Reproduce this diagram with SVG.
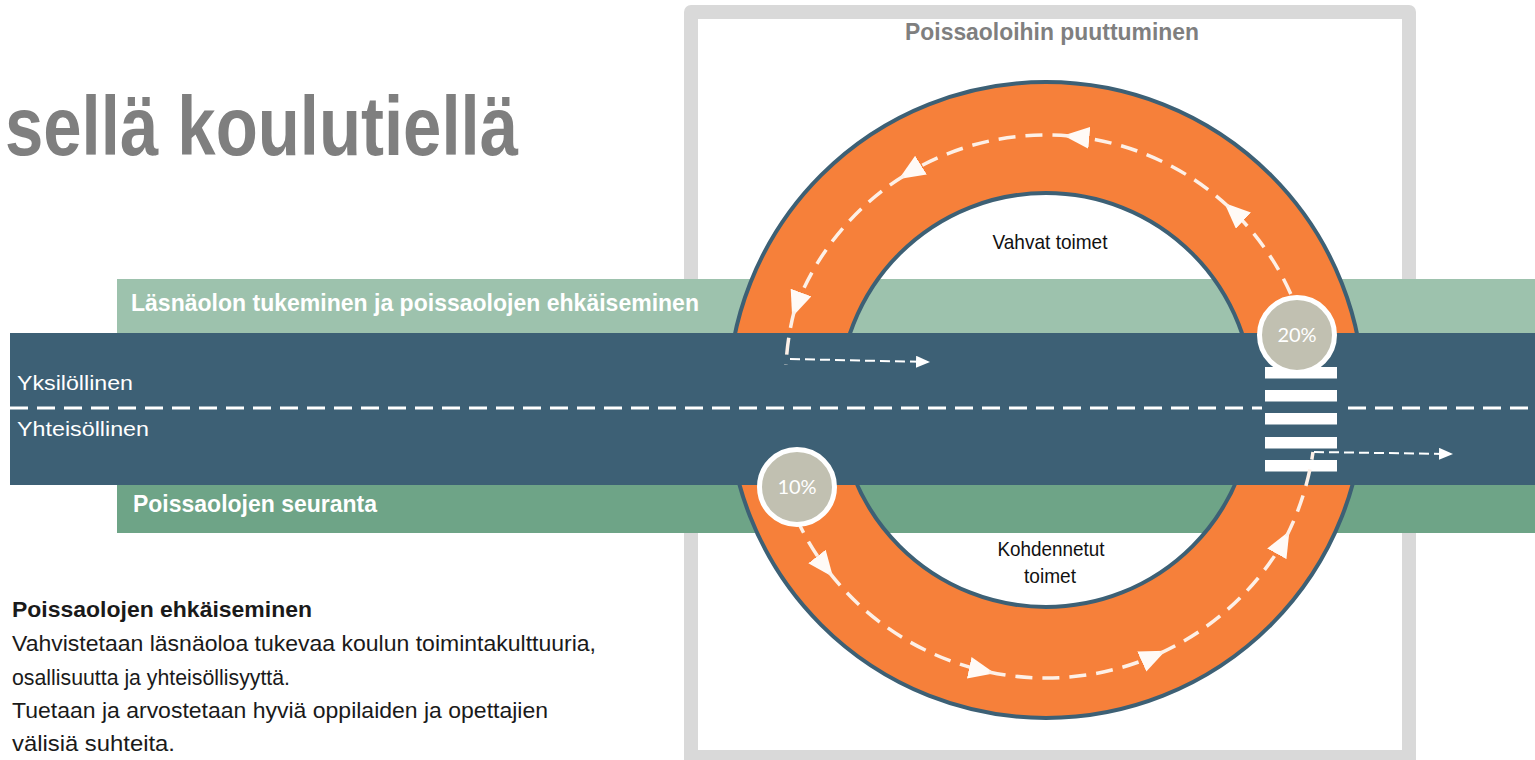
<svg xmlns="http://www.w3.org/2000/svg" width="1535" height="760" viewBox="0 0 1535 760">
<style>
.narrow{font-family:"Liberation Sans Narrow","Liberation Sans",Arial,sans-serif}
.b{font-weight:bold}
.w{fill:#ffffff}
.ring-dash{fill:none;stroke:#fdf0e7;stroke-width:3.5;stroke-dasharray:17 10}
.road-dash{fill:none;stroke:#ffffff;stroke-width:2;stroke-dasharray:10 5}
.pct{font-family:Lato,"Open Sans",sans-serif;font-size:20px;fill:#ffffff;text-anchor:middle}
.badge{fill:#c1c0b1;stroke:#ffffff;stroke-width:5}
.bar{fill:#ffffff}
</style>
<defs>
<marker id="ah" markerUnits="userSpaceOnUse" viewBox="0 0 26 22" markerWidth="26" markerHeight="22" refX="20" refY="11" orient="auto">
<path d="M0,0 L26,11 L0,22 Z" fill="#fffaf6"/>
</marker>
<marker id="sa" markerUnits="userSpaceOnUse" viewBox="0 0 14 12" markerWidth="14" markerHeight="12" refX="12" refY="6" orient="auto">
<path d="M0,0 L14,6 L0,12 Z" fill="#ffffff"/>
</marker>
</defs>

<text x="5" y="155" class="narrow b" font-size="84" fill="#7f7f7f" textLength="513" lengthAdjust="spacingAndGlyphs">sellä koulutiellä</text>

<g id="frame">
<rect x="684" y="5" width="732" height="775" rx="7" fill="#d9d9d9"/>
<rect x="698" y="19" width="704" height="731" fill="#ffffff"/>
<text x="905" y="40" class="narrow b" font-size="24" fill="#7f7f7f" textLength="294" lengthAdjust="spacingAndGlyphs">Poissaoloihin puuttuminen</text>
</g>

<g id="band-prevention">
<rect x="117" y="279" width="1418" height="54" fill="#9dc2ad"/>
<text x="131" y="311" class="narrow b w" font-size="24" textLength="568" lengthAdjust="spacingAndGlyphs">Läsnäolon tukeminen ja poissaolojen ehkäiseminen</text>
</g>

<g id="band-monitoring">
<rect x="117" y="485" width="1418" height="48" fill="#6ea487"/>
<text x="133" y="512" class="narrow b w" font-size="24" textLength="244" lengthAdjust="spacingAndGlyphs">Poissaolojen seuranta</text>
</g>

<g id="roundabout">
<path d="M728,400 a318,318 0 1,0 636,0 a318,318 0 1,0 -636,0 Z M839,400 a207,207 0 1,0 414,0 a207,207 0 1,0 -414,0 Z" fill="#f6803a" fill-rule="evenodd" stroke="#3d6075" stroke-width="4"/>
<text x="1050" y="249" class="narrow" font-size="21" fill="#111111" text-anchor="middle" textLength="115" lengthAdjust="spacingAndGlyphs">Vahvat toimet</text>
<text x="1051" y="556" class="narrow" font-size="21" fill="#111111" text-anchor="middle" textLength="107" lengthAdjust="spacingAndGlyphs">Kohdennetut</text>
<text x="1050" y="583" class="narrow" font-size="21" fill="#111111" text-anchor="middle" textLength="52" lengthAdjust="spacingAndGlyphs">toimet</text>
</g>

<g id="road">
<rect x="10" y="333" width="1525" height="152" fill="#3d6075"/>
<line x1="10" y1="408" x2="1262" y2="408" stroke="#ffffff" stroke-width="3" stroke-dasharray="18 9"/>
<line x1="1348" y1="408" x2="1535" y2="408" stroke="#ffffff" stroke-width="3" stroke-dasharray="18 9"/>
<text x="17" y="390" class="narrow w" font-size="21" textLength="116" lengthAdjust="spacingAndGlyphs">Yksilöllinen</text>
<text x="17" y="436" class="narrow w" font-size="21" textLength="132" lengthAdjust="spacingAndGlyphs">Yhteisöllinen</text>
</g>

<g id="crosswalk">
<rect class="bar" x="1265" y="367" width="72" height="11.5"/>
<rect class="bar" x="1265" y="390" width="72" height="11.5"/>
<rect class="bar" x="1265" y="413" width="72" height="11.5"/>
<rect class="bar" x="1265" y="437" width="72" height="11.5"/>
<rect class="bar" x="1265" y="460" width="72" height="11.5"/>
</g>

<g id="connectors">
<path class="ring-dash" d="M1290.8,294 A268,268 0 0 0 1228.8,207" marker-end="url(#ah)"/>
<path class="ring-dash" d="M1228.8,207 A268,268 0 0 0 1069.4,136" marker-end="url(#ah)"/>
<path class="ring-dash" d="M1069.4,136 A268,268 0 0 0 904,175.7" marker-end="url(#ah)"/>
<path class="ring-dash" d="M904,175.7 A268,268 0 0 0 794.2,311.3" marker-end="url(#ah)"/>
<path class="ring-dash" d="M794.2,311.3 A268,268 0 0 0 786,365"/>
<path class="road-dash" d="M790,359 L928,362" marker-end="url(#sa)"/>
<path class="ring-dash" d="M786,492.5 A275,275 0 0 0 829.3,572.3" marker-end="url(#ah)"/>
<path class="ring-dash" d="M829.3,572.3 A275,275 0 0 0 988.8,672" marker-end="url(#ah)"/>
<path class="ring-dash" d="M988.8,672 A275,275 0 0 0 1160,653.3" marker-end="url(#ah)"/>
<path class="ring-dash" d="M1160,653.3 A275,275 0 0 0 1286.5,536.3" marker-end="url(#ah)"/>
<path class="ring-dash" d="M1286.5,536.3 A275,275 0 0 0 1313,452"/>
<path class="road-dash" d="M1314,452 L1451,454" marker-end="url(#sa)"/>
</g>

<g id="badge-20">
<circle class="badge" cx="1297" cy="335" r="37.5"/>
<text class="pct" x="1297" y="342">20%</text>
</g>
<g id="badge-10">
<circle class="badge" cx="797" cy="487" r="37.5"/>
<text class="pct" x="797" y="494">10%</text>
</g>

<g id="prevention-text" class="narrow" font-size="22" fill="#1a1a1a">
<text x="12" y="617" class="b" textLength="300" lengthAdjust="spacingAndGlyphs">Poissaolojen ehkäiseminen</text>
<text x="12" y="651" textLength="584" lengthAdjust="spacingAndGlyphs">Vahvistetaan läsnäoloa tukevaa koulun toimintakulttuuria,</text>
<text x="12" y="685" textLength="278" lengthAdjust="spacingAndGlyphs">osallisuutta ja yhteisöllisyyttä.</text>
<text x="12" y="718" textLength="536" lengthAdjust="spacingAndGlyphs">Tuetaan ja arvostetaan hyviä oppilaiden ja opettajien</text>
<text x="12" y="751" textLength="163" lengthAdjust="spacingAndGlyphs">välisiä suhteita.</text>
</g>
</svg>
